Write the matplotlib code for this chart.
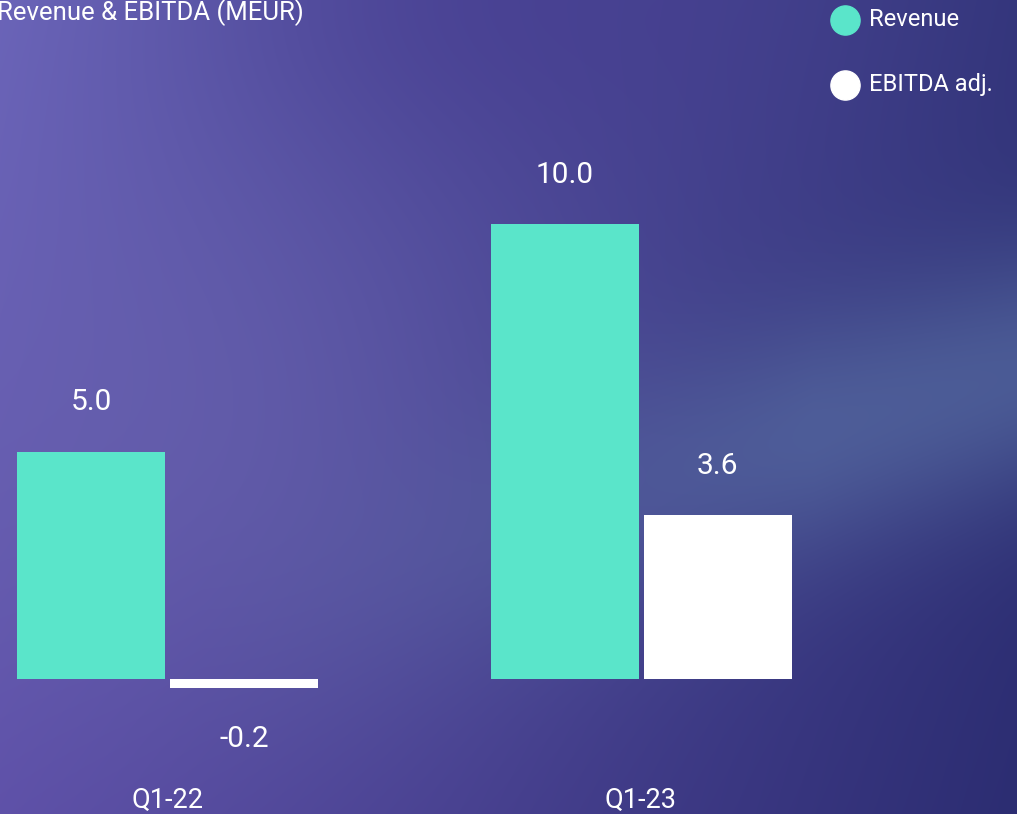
import numpy as np
import matplotlib.pyplot as plt

# data
quarters = ['Q1-22', 'Q1-23']
revenue = [5.0, 10.0]
ebitda = [-0.2, 3.6]
series = ['Revenue', 'EBITDA adj.']

teal = '#5ae5ca'
white = '#ffffff'

W, H = 1017, 814
fig = plt.figure(figsize=(W / 100, H / 100), dpi=100)

# background gradient (purple -> navy with lighter streak)
bg = fig.add_axes([0, 0, 1, 1])
bg.set_axis_off()
yy, xx = np.mgrid[0:1:H * 1j, 0:1:W * 1j]
tl = np.array([0x6c, 0x66, 0xba]) / 255
tr = np.array([0x34, 0x36, 0x7c]) / 255
bl = np.array([0x5e, 0x50, 0xa8]) / 255
br = np.array([0x2c, 0x2d, 0x72]) / 255
img = (tl * ((1 - xx) * (1 - yy))[..., None] + tr * (xx * (1 - yy))[..., None]
       + bl * ((1 - xx) * yy)[..., None] + br * (xx * yy)[..., None])
# darker band along the top middle
top = np.exp(-(((xx - 0.5) / 0.3) ** 2 + (yy / 0.25) ** 2))
img += top[..., None] * (np.array([0x44, 0x3a, 0x8e]) / 255 - img) * 0.6
# broad light streak from lower centre up to the right edge
d = (yy - (0.82 - 0.36 * xx)) / 0.16
streak = np.exp(-d ** 2) * np.clip((xx - 0.2) / 0.6, 0, 1)
img += streak[..., None] * (np.array([0x56, 0x6c, 0xa2]) / 255 - img) * 0.7
# soft glow in the left middle
glow = np.exp(-(((xx - 0.2) / 0.3) ** 2 + ((yy - 0.55) / 0.35) ** 2))
img += glow[..., None] * (np.array([0x6e, 0x6a, 0xb2]) / 255 - img) * 0.4
bg.imshow(np.clip(img, 0, 1), aspect='auto', extent=[0, 1, 0, 1], origin='upper')

ax = fig.add_axes([0, 0, 1, 1])
ax.patch.set_alpha(0)
px = 473.5  # pixels per group step
x0 = 167.5
ax.set_xlim(-x0 / px, (W - x0) / px)
ppu = 45.5
base = 679
ax.set_ylim(-(H - base) / ppu, base / ppu)
ax.set_axis_off()

x = np.arange(len(quarters))
w = 148 / px
off = 76.5 / px
ax.bar(x - off, revenue, w, color=teal, linewidth=0)
ax.bar(x + off, ebitda, w, color=white, linewidth=0)

font = 'Roboto'
lab_off = 49 / ppu
for xi, v in zip(x - off, revenue):
    ax.text(xi, v + lab_off, f'{v:.1f}', ha='center', va='center',
            color='white', fontsize=21.5, family=font)
for xi, v in zip(x + off, ebitda):
    yv = v + lab_off if v >= 0 else v - 51 / ppu
    ax.text(xi, yv, f'{v:.1f}', ha='center', va='center',
            color='white', fontsize=21.5, family=font)
for xi, q in zip(x, quarters):
    ax.text(xi, -(800 - base) / ppu, q, ha='center', va='center',
            color='white', fontsize=19.5, family=font)

fig.text(-3 / W, 1 - 13 / H, 'Revenue & EBITDA (MEUR)', ha='left', va='center',
         color='white', fontsize=18.5, family=font)

# legend drawn by hand: circle markers with labels
for i, (name, c) in enumerate(zip(series, [teal, white])):
    yc = 1 - (20 + 65 * i) / H
    fig.lines.append(plt.Line2D([845 / W], [yc], marker='o', ms=21, color=c,
                                transform=fig.transFigure))
    fig.text(869 / W, yc, name, ha='left', va='center', color='white',
             fontsize=17, family=font)

fig.savefig('out.png', dpi=100)
